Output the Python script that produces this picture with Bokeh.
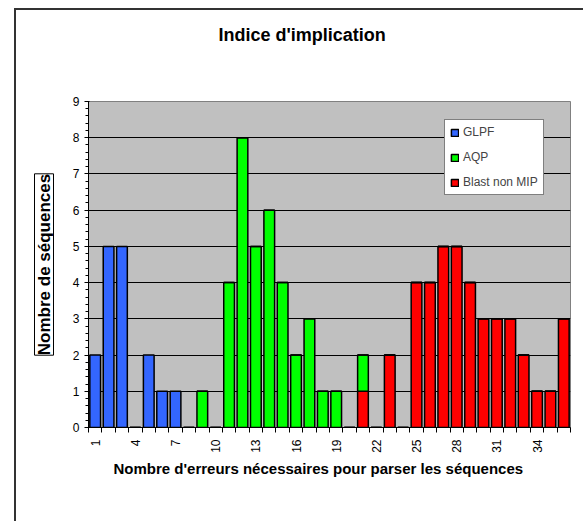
import math
from bokeh.plotting import figure
from bokeh.models import (FixedTicker, Legend, LegendItem, Title,
                          ColumnDataSource, Range1d)
from bokeh.embed import file_html
from bokeh.resources import INLINE

# ---- data ----
categories = list(range(1, 37))
glpf = [2, 5, 5, 0, 2, 1, 1, 0, 0, 0, 0, 0, 0, 0, 0, 0, 0, 0,
        0, 0, 0, 0, 0, 0, 0, 0, 0, 0, 0, 0, 0, 0, 0, 0, 0, 0]
aqp = [0, 0, 0, 0, 0, 0, 0, 0, 1, 0, 4, 8, 5, 6, 4, 2, 3, 1,
       1, 0, 1, 0, 0, 0, 0, 0, 0, 0, 0, 0, 0, 0, 0, 0, 0, 0]
blast = [0, 0, 0, 0, 0, 0, 0, 0, 0, 0, 0, 0, 0, 0, 0, 0, 0, 0,
         0, 0, 1, 0, 2, 0, 4, 4, 5, 5, 4, 3, 3, 3, 2, 1, 1, 3]
x_tick_values = [1, 4, 7, 10, 13, 16, 19, 22, 25, 28, 31, 34]
y_ticks = list(range(0, 10))
colors = {"GLPF": "#3366FF", "AQP": "#00FF00", "Blast non MIP": "#FF0000"}

FONT = "Liberation Sans"

src = ColumnDataSource(dict(x=categories, glpf=glpf, aqp=aqp, blast=blast))

p = figure(width=570, height=514, output_backend="svg", toolbar_location=None,
           x_range=Range1d(0.5, 36.5), y_range=Range1d(0, 9),
           min_border_left=71, min_border_right=16, min_border_top=91,
           min_border_bottom=97)
p.margin = (8, 0, 0, 14)
p.styles = {"border-left": "2px solid #333333", "border-top": "2px solid #333333",
            "border-right": "none", "border-bottom": "none",
            "outline": "none", "box-shadow": "none"}
p.background_fill_color = "#C0C0C0"
p.border_fill_color = "white"
p.outline_line_color = "#808080"
p.outline_line_width = 1

renderers = p.vbar_stack(["blast", "aqp", "glpf"], x="x", width=0.8, source=src,
                         color=[colors["Blast non MIP"], colors["AQP"], colors["GLPF"]],
                         line_color="black", line_width=1.5)
r_blast, r_aqp, r_glpf = renderers

# grid
p.xgrid.grid_line_color = None
p.ygrid.grid_line_color = "black"
p.ygrid.grid_line_width = 1
p.ygrid.ticker = FixedTicker(ticks=y_ticks)

# x axis
xa = p.xaxis[0]
xa.ticker = FixedTicker(ticks=x_tick_values,
                        minor_ticks=[c - 0.5 for c in categories] + [36.5])
xa.major_tick_line_color = None
xa.major_tick_out = 0
xa.major_tick_in = 0
xa.minor_tick_out = 5
xa.minor_tick_in = 0
xa.minor_tick_line_color = "black"
xa.major_label_orientation = math.pi / 2
xa.major_label_standoff = 7
xa.major_label_text_font = FONT
xa.major_label_text_font_size = "12px"
xa.major_label_text_color = "black"
xa.axis_line_color = "black"

# y axis
ya = p.yaxis[0]
ya.ticker = FixedTicker(ticks=y_ticks,
                        minor_ticks=[i / 5 for i in range(0, 46)])
ya.major_tick_out = 4
ya.major_tick_in = 1
ya.minor_tick_out = 3
ya.minor_tick_in = 0
ya.major_tick_line_color = "black"
ya.minor_tick_line_color = "black"
ya.major_label_standoff = 5
ya.major_label_text_font = FONT
ya.major_label_text_font_size = "12px"
ya.major_label_text_color = "black"
ya.axis_line_color = "black"

# legend
legend = Legend(items=[LegendItem(label="GLPF", renderers=[r_glpf]),
                       LegendItem(label="AQP", renderers=[r_aqp]),
                       LegendItem(label="Blast non MIP", renderers=[r_blast])],
                location=(356, 232))
legend.label_text_font = FONT
legend.label_text_font_size = "12px"
legend.glyph_width = 9
legend.glyph_height = 9
legend.label_height = 9
legend.label_standoff = 4
legend.spacing = 11
legend.padding = 5
legend.margin = 0
legend.border_line_color = "black"
legend.border_line_width = 1
legend.background_fill_color = "white"
legend.background_fill_alpha = 1
p.add_layout(legend, "center")

# titles
p.title.text = "Indice d'implication"
p.title.text_font = FONT
p.title.text_font_size = "18px"
p.title.text_font_style = "bold"
p.title.text_color = "black"
p.title.align = "left"
p.title.offset = 130
p.title.standoff = 0
p.title.vertical_align = "middle"
p.add_layout(Title(text=" ", text_font_size="12px", standoff=40), "above")

p.add_layout(Title(text="Nombre d'erreurs nécessaires pour parser les séquences",
                   text_font=FONT, text_font_size="15px", text_font_style="bold",
                   text_color="black", align="left", offset=25, standoff=8,
                   vertical_align="top"), "below")
p.add_layout(Title(text="Nombre de séquences", text_font=FONT,
                   text_font_size="17px", text_font_style="bold",
                   text_color="black", align="center", standoff=32,
                   border_line_color="black", border_line_width=1,
                   background_fill_color="white"), "left")

open("out.html", "w").write(file_html(p, INLINE))
